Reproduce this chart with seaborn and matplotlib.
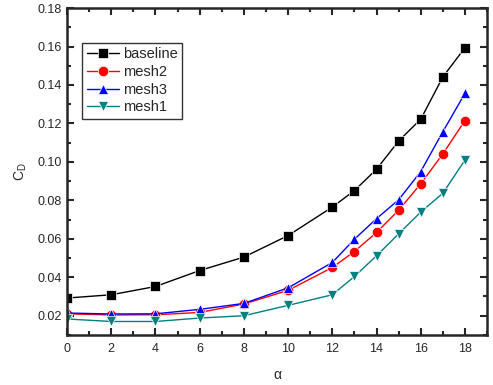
import matplotlib
matplotlib.use("Agg")
import matplotlib.pyplot as plt
import seaborn as sns
import pandas as pd
from matplotlib.ticker import MultipleLocator

alpha = [0, 2, 4, 6, 8, 10, 12, 13, 14, 15, 16, 17, 18]
baseline = [0.0292, 0.0309, 0.0352, 0.0435, 0.0505, 0.0617, 0.0765, 0.0851, 0.0962, 0.1109, 0.1222, 0.1442, 0.1594]
mesh2 = [0.0210, 0.0204, 0.0205, 0.0217, 0.0261, 0.0332, 0.0451, 0.0534, 0.0633, 0.0749, 0.0886, 0.1042, 0.1215]
mesh3 = [0.0214, 0.0209, 0.0210, 0.0233, 0.0264, 0.0345, 0.0477, 0.0598, 0.0705, 0.0803, 0.0950, 0.1157, 0.1357]
mesh1 = [0.0183, 0.0170, 0.0170, 0.0188, 0.0200, 0.0254, 0.0309, 0.0404, 0.0512, 0.0626, 0.0739, 0.0837, 0.1010]

names = ["baseline", "mesh2", "mesh3", "mesh1"]
series = [baseline, mesh2, mesh3, mesh1]
colors = {"baseline": "#000000", "mesh2": "#ff0000", "mesh3": "#0000ff", "mesh1": "#008080"}
markers = {"baseline": "s", "mesh2": "o", "mesh3": "^", "mesh1": "v"}

df = pd.concat([pd.DataFrame({"alpha": alpha, "CD": s, "case": n}) for n, s in zip(names, series)],
               ignore_index=True)

sns.set_style("ticks")
plt.rcParams["font.family"] = ["Liberation Sans", "DejaVu Sans"]
plt.rcParams["mathtext.fontset"] = "custom"
plt.rcParams["mathtext.rm"] = "Liberation Sans"
plt.rcParams["mathtext.it"] = "Liberation Sans"

fig = plt.figure(figsize=(4.93, 3.85), dpi=100)
ax = fig.add_axes([0.136, 0.13, 0.852, 0.849])

sns.lineplot(data=df, x="alpha", y="CD", hue="case", style="case", hue_order=names, style_order=names,
             palette=colors, markers=markers, dashes=False, markersize=7.5, linewidth=1,
             markeredgewidth=0.5, ax=ax)

ax.set_xlim(0, 19)
ax.set_ylim(0.01, 0.18)
ax.xaxis.set_minor_locator(MultipleLocator(1))
ax.yaxis.set_minor_locator(MultipleLocator(0.01))
ax.set_xticks(range(0, 19, 2))
ax.set_yticks([0.02, 0.04, 0.06, 0.08, 0.10, 0.12, 0.14, 0.16, 0.18])
ax.set_yticklabels(["0.02", "0.04", "0.06", "0.08", "0.10", "0.12", "0.14", "0.16", "0.18"])
ax.tick_params(which="both", direction="in", top=True, right=True, labelsize=9, width=1.5)
ax.tick_params(which="major", length=5)
ax.tick_params(which="minor", length=3)
ax.tick_params(axis="x", pad=6)
for sp in ax.spines.values():
    sp.set_linewidth(1.8)
    sp.set_visible(True)

ax.set_xlabel("α", fontsize=10, labelpad=9)
ax.set_ylabel("C$_\\mathrm{D}$", fontsize=10, labelpad=6)

leg = ax.legend(loc="upper left", bbox_to_anchor=(0.036, 0.893), borderaxespad=0, fontsize=10.5,
                frameon=True, fancybox=False, edgecolor="black", handlelength=2.2, handletextpad=0.3,
                borderpad=0.3, labelspacing=0.25)
leg.get_frame().set_linewidth(1)

fig.savefig("out.png", dpi=100)
